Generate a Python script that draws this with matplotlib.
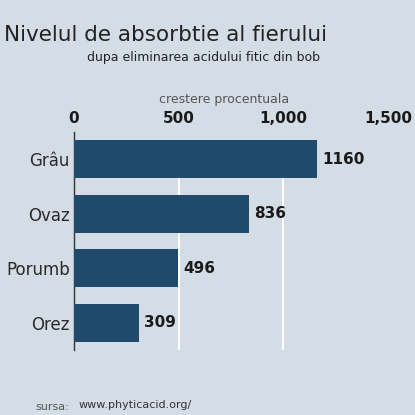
import matplotlib
matplotlib.use("Agg")
import matplotlib.pyplot as plt

categories = ["Grâu", "Ovaz", "Porumb", "Orez"]
values = [1160, 836, 496, 309]
ticks = [0, 500, 1000, 1500]
tick_labels = ["0", "500", "1,000", "1,500"]

BG = "#d4dce6"
BAR = "#1f4a6b"

fig = plt.figure(figsize=(4.15, 4.15), dpi=100, facecolor=BG)
ax = fig.add_axes([74/415, 1-350/415, (388-74)/415, (350-132)/415])
ax.set_facecolor(BG)

y = list(range(len(categories)))
ax.barh(y, values, height=0.7, color=BAR, zorder=3)
ax.set_ylim(len(categories)-0.5, -0.5)
ax.set_xlim(0, 1500)

for v in [500, 1000]:
    ax.axvline(v, color="white", lw=1.5, zorder=2, ymin=0.0, ymax=0.96)

for i, v in enumerate(values):
    ax.text(v + 25, i, str(v), va="center", ha="left", fontsize=11,
            fontweight="bold", color="#1a1a1a")

ax.set_yticks(y)
ax.set_yticklabels(categories, fontsize=12, color="#2a2a2a")
ax.tick_params(axis="y", length=0, pad=3)
ax.xaxis.tick_top()
ax.set_xticks(ticks)
ax.set_xticklabels(tick_labels, fontsize=11, fontweight="bold", color="#1a1a1a")
ax.tick_params(axis="x", length=0, pad=4)
for s in ["top", "right", "bottom"]:
    ax.spines[s].set_visible(False)
ax.spines["left"].set_color("#333333")
ax.spines["left"].set_linewidth(1)

fig.text(0.01, 1-35/415, "Nivelul de absorbtie al fierului", fontsize=15.5,
         color="#222222", va="center", ha="left")
fig.text(0.21, 1-58/415, "dupa eliminarea acidului fitic din bob", fontsize=9,
         color="#222222", va="center", ha="left")
fig.text(0.54, 1-100/415, "crestere procentuala", fontsize=9,
         color="#555555", va="center", ha="center")
fig.text(0.085, 1-407/415, "sursa:", fontsize=8, color="#555555", va="center")
fig.text(0.19, 1-405/415, "www.phyticacid.org/", fontsize=8, color="#333333", va="center")

fig.savefig("out.png", dpi=100, facecolor=BG)
